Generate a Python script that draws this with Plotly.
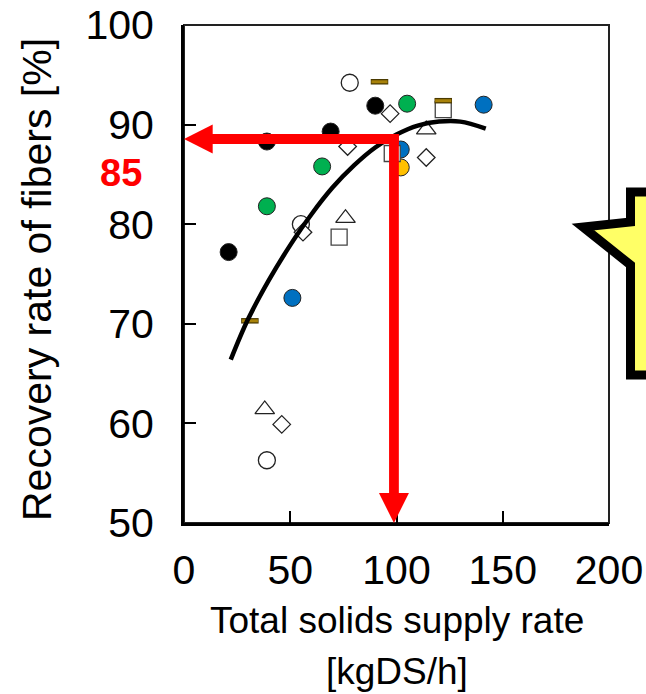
import plotly.graph_objects as go

# ---- data ----
black_x = [21, 39, 69, 90]
black_y = [77.2, 88.3, 89.3, 91.9]
green_x = [39, 65, 105]
green_y = [81.8, 85.8, 92.1]
blue_x = [51, 102, 141]
blue_y = [72.6, 87.5, 92.0]
orange_x = [102]
orange_y = [85.7]
ocircle_x = [39, 55, 78]
ocircle_y = [56.3, 80.0, 94.2]
diamond_x = [46, 56, 77, 97, 114]
diamond_y = [59.9, 79.2, 87.8, 91.1, 86.7]
triangle_x = [38, 76, 114]
triangle_y = [61.4, 80.6, 89.5]
square_x = [73, 98, 122]
square_y = [78.7, 87.1, 91.5]
dash_x = [31, 61, 92, 122]
dash_y = [70.3, 88.4, 94.3, 92.4]

curve_x = [22, 30, 40, 50, 60, 70, 80, 90, 100, 110, 120, 130, 142]
curve_y = [66.4, 70.4, 74.4, 77.9, 81.0, 83.7, 85.9, 87.7, 89.0, 89.9, 90.3, 90.3, 89.6]

x_ticks = [0, 50, 100, 150, 200]
y_ticks = [50, 60, 70, 80, 90, 100]

arrow_x = 98.8      # vertical red arrow position
arrow_y = 88.55     # horizontal red arrow level
target_label = "85"

fig = go.Figure()

def filled(x, y, color, name):
    fig.add_trace(go.Scatter(x=x, y=y, mode="markers", name=name,
                             marker=dict(symbol="circle", size=17, color=color,
                                         line=dict(color="#222222", width=1))))

filled(black_x, black_y, "#000000", "black")
filled(green_x, green_y, "#00B050", "green")
filled(blue_x, blue_y, "#0070C0", "blue")
filled(orange_x, orange_y, "#FFC000", "orange")

fig.add_trace(go.Scatter(x=ocircle_x, y=ocircle_y, mode="markers",
                         marker=dict(symbol="circle", size=17, color="white",
                                     line=dict(color="#222222", width=1.3))))
fig.add_trace(go.Scatter(x=diamond_x, y=diamond_y, mode="markers",
                         marker=dict(symbol="diamond", size=13.5, color="white",
                                     line=dict(color="#222222", width=1.3))))
fig.add_trace(go.Scatter(x=triangle_x, y=triangle_y, mode="markers",
                         marker=dict(symbol="triangle-up", size=17, color="white",
                                     line=dict(color="#222222", width=1.3))))
fig.add_trace(go.Scatter(x=square_x, y=square_y, mode="markers",
                         marker=dict(symbol="square", size=16, color="white",
                                     line=dict(color="#444444", width=1.3))))
fig.add_trace(go.Scatter(x=dash_x, y=dash_y, mode="markers",
                         marker=dict(symbol="line-ew", size=12.5,
                                     line=dict(color="#4A3A00", width=5.5))))
fig.add_trace(go.Scatter(x=dash_x, y=dash_y, mode="markers",
                         marker=dict(symbol="line-ew", size=11.5,
                                     line=dict(color="#A8820A", width=3))))

fig.add_trace(go.Scatter(x=curve_x, y=curve_y, mode="lines", line_shape="spline",
                         line=dict(color="black", width=4.5)))

red = "#FF0000"
# red L-shaped arrow (horizontal to y-axis, vertical to x-axis)
hx_head = 13.5
hw = 0.5   # half thickness in y units (~5px)
vw = 2.3   # half thickness in x units (~5px)
vy_head = 53.0
shapes = [
    dict(type="rect", xref="x", yref="y", x0=hx_head - 1, x1=arrow_x + vw,
         y0=arrow_y - hw, y1=arrow_y + hw, fillcolor=red, line=dict(width=0), layer="above"),
    dict(type="path", xref="x", yref="y",
         path=f"M 0 {arrow_y} L {hx_head} {arrow_y + 1.46} L {hx_head} {arrow_y - 1.46} Z",
         fillcolor=red, line=dict(width=0), layer="above"),
    dict(type="rect", xref="x", yref="y", x0=arrow_x - vw, x1=arrow_x + vw,
         y0=vy_head - 0.5, y1=arrow_y + hw, fillcolor=red, line=dict(width=0), layer="above"),
    dict(type="path", xref="x", yref="y",
         path=f"M {arrow_x} 50 L {arrow_x - 7.05} {vy_head} L {arrow_x + 7.05} {vy_head} Z",
         fillcolor=red, line=dict(width=0), layer="above"),
    # frame top/right
    dict(type="rect", xref="paper", yref="paper", x0=0, x1=1, y0=0, y1=1,
         line=dict(color="#222222", width=2), layer="below"),
]

# decorative yellow star (partly outside the figure), pixel -> paper conversion
L, T, W, H = 184, 25, 425, 498
def px(xp, yp):
    return (xp - L) / W, (T + H - yp) / H
star_pts = [(700, 192), (630.5, 192), (630.5, 222), (583, 227), (630.5, 265),
            (630.5, 375), (700, 375)]
pp = [px(a, b) for a, b in star_pts]
star_path = "M " + " L ".join(f"{a:.4f} {b:.4f}" for a, b in pp) + " Z"
shapes.append(dict(type="path", xref="paper", yref="paper", path=star_path,
                   fillcolor="#FFFF66", line=dict(color="black", width=9), layer="above"))

fig.update_layout(
    width=646, height=694,
    margin=dict(l=184, r=37, t=25, b=171, autoexpand=False),
    paper_bgcolor="white", plot_bgcolor="white",
    showlegend=False,
    shapes=shapes,
    font=dict(family="Liberation Sans, Arial, sans-serif", color="black"),
)
fig.update_xaxes(range=[0, 200], tickvals=x_ticks, ticks="inside", ticklen=12,
                 tickwidth=2, tickcolor="black", showline=True, linewidth=3,
                 linecolor="black", showgrid=False, zeroline=False, automargin=False,
                 tickfont=dict(size=41), ticklabelstandoff=9, ticklabeloverflow="allow")
fig.update_yaxes(range=[50, 100], tickvals=y_ticks, ticks="inside", ticklen=12,
                 tickwidth=2, tickcolor="black", showline=True, linewidth=3,
                 linecolor="black", showgrid=False, zeroline=False, automargin=False,
                 tickfont=dict(size=41), ticklabelstandoff=19, ticklabeloverflow="allow")

fig.add_annotation(text="Recovery rate of fibers [%]", xref="paper", yref="paper",
                   x=0, y=0.5, xshift=-147, yshift=-6, textangle=-90, showarrow=False,
                   xanchor="center", yanchor="middle", font=dict(size=41))
fig.add_annotation(text="Total solids supply rate", xref="paper", yref="paper",
                   x=0.5, y=0, yshift=-97, showarrow=False, xanchor="center",
                   yanchor="middle", font=dict(size=37))
fig.add_annotation(text="[kgDS/h]", xref="paper", yref="paper",
                   x=0.5, y=0, yshift=-148, showarrow=False, xanchor="center",
                   yanchor="middle", font=dict(size=37))
fig.add_annotation(text=f"<b>{target_label}</b>", xref="paper", yref="paper",
                   x=0, y=0.5, xshift=-63.5, yshift=101, showarrow=False,
                   xanchor="center", yanchor="middle",
                   font=dict(size=38, color=red, family="Liberation Sans Narrow, Liberation Sans, Arial"))

# remove the default 8px page margin so the figure fills the window exactly
fig.write_html("out.html", config={"displayModeBar": False},
               post_script="document.body.style.margin='0';")
